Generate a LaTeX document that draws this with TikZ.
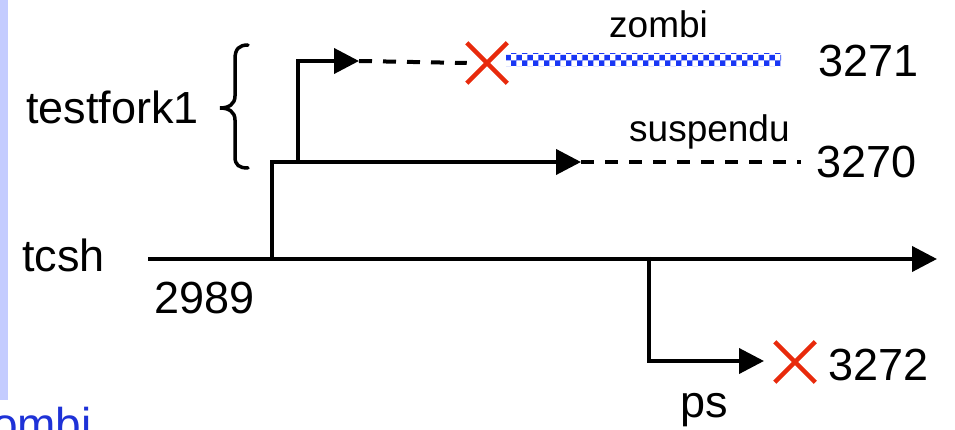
\documentclass[tikz,border=0pt]{standalone}
\usepackage{fontspec}
\setmainfont{Liberation Sans}
\usetikzlibrary{arrows.meta,shapes.misc,patterns}
\definecolor{stripeblue}{RGB}{196,204,255}
\definecolor{linkblue}{RGB}{30,50,215}
\definecolor{xred}{RGB}{232,42,12}
\definecolor{zblue}{RGB}{25,55,245}
\tikzset{
  big/.style={inner sep=0pt, font=\fontsize{45}{54}\selectfont},
  small/.style={inner sep=0pt, font=\fontsize{37}{44}\selectfont},
  lifeline/.style={line width=4pt, line join=miter},
  arr/.style={lifeline, -{Triangle[length=25pt,width=25pt]}},
  waitline/.style={line width=4pt, dash pattern=on 13pt off 11pt},
  redx/.style={draw=xred, cross out, line width=4.5pt, minimum size=36pt, inner sep=0pt},
  zbar/.style={pattern=checkerboard, pattern color=zblue},
  bracestyle/.style={line width=3.5pt, line cap=round},
}
\begin{document}
\begin{tikzpicture}[x=1pt,y=-1pt]
\useasboundingbox (0,0) rectangle (955,430);
\clip (0,0) rectangle (955,430);
\fill[stripeblue] (0,0) rectangle (8,400);
\node[anchor=base east, inner sep=0pt, text=linkblue, font=\fontsize{46}{54}\selectfont] (ombi) at (92,440) {ombi};

% labels
\node[big, anchor=base west] (tcsh) at (22,272) {tcsh};
\node[big, anchor=base west] (pid2989) at (154,313) {2989};
\node[big, anchor=base west] (tf) at (26,124) {testfork1};
\node[big, anchor=base west] (p3271) at (818,77) {3271};
\node[big, anchor=base west] (p3270) at (816,178) {3270};
\node[big, anchor=base west] (p3272) at (828,380) {3272};
\node[big, anchor=base west] (ps) at (680,417) {ps};
\node[small, anchor=base west] (zombi) at (609,38) {zombi};
\node[small, anchor=base west] (susp) at (629,142) {suspendu};

% coordinates
\coordinate (m0) at (148,259);
\coordinate (mEnd) at (937,259);
\coordinate (f1) at (272,261);
\coordinate (a3270) at (581,162);
\coordinate (d3270) at (801,162);
\coordinate (f2) at (298,160);
\coordinate (a3271) at (359,61);
\coordinate (f3) at (649,257);
\coordinate (a3272) at (764,361);
\coordinate (z0) at (506,54);
\coordinate (z1) at (781,67);
\coordinate (b0) at (248,168);
\coordinate (b1) at (248,45);
\coordinate (btip) at (220,108);
\node[redx] (x3271) at (487,63) {};
\node[redx] (x3272) at (795,362) {};

% brace
\draw[bracestyle] (b1) .. controls (239,45) and (235,49) .. (235,59)
  -- (235,96) .. controls (235,104) and (229,108) .. (btip)
  .. controls (229,108) and (235,112) .. (235,120)
  -- (235,157) .. controls (235,165) and (239,168) .. (b0);

% main line
\draw[arr] (m0) -- (mEnd);
% 3270
\draw[arr] (f1) |- (a3270);
\draw[waitline] (a3270) -- (d3270);
% 3271
\draw[arr] (f2) |- (a3271);
\draw[waitline] (a3271) -- (x3271.west);
\fill[zbar] (z0) rectangle (z1);
% 3272
\draw[arr] (f3) |- (a3272);
\end{tikzpicture}
\end{document}
